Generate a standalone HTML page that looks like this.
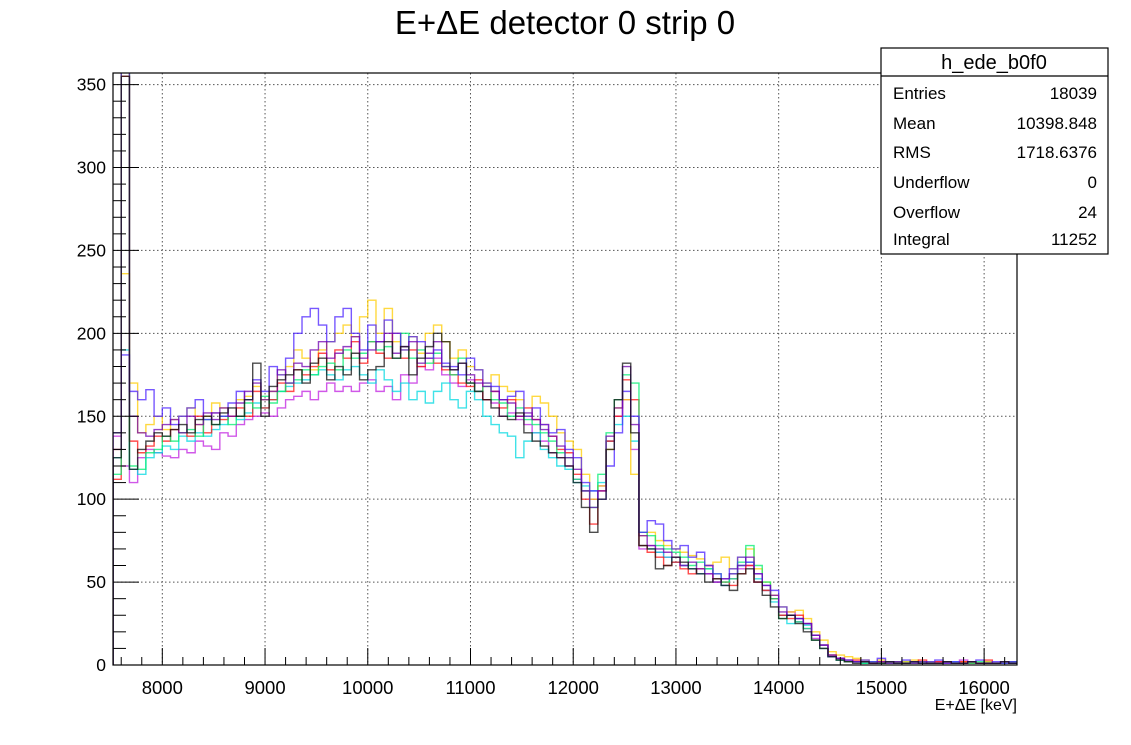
<!DOCTYPE html>
<html><head><meta charset="utf-8"><style>
body{margin:0;background:#fff;width:1131px;height:740px;overflow:hidden;font-family:"Liberation Sans",Arial,sans-serif}
svg text{font-family:"Liberation Sans",Arial,sans-serif}
</style></head><body>
<svg id="chart" width="1131" height="740" xmlns="http://www.w3.org/2000/svg">
<text x="565" y="34" font-size="33" text-anchor="middle">E+ΔE detector 0 strip 0</text>
<defs><clipPath id="pc"><rect x="113" y="73" width="904" height="592"/></clipPath></defs>
<g id="grid"></g>
<g id="series" clip-path="url(#pc)"></g>
<rect x="113" y="73" width="904" height="592" fill="none" stroke="#000" stroke-width="1.2"/>
<g id="axes"></g>
<text x="1017" y="710" font-size="16" text-anchor="end">E+ΔE [keV]</text>
<g>
<rect x="881" y="48" width="227" height="206" fill="#fff" stroke="#000" stroke-width="1.2"/>
<line x1="881" y1="76" x2="1108" y2="76" stroke="#000" stroke-width="1.2"/>
<text x="994" y="69" font-size="20" text-anchor="middle">h_ede_b0f0</text>
<g font-size="17">
<text x="893" y="99">Entries</text><text x="1097" y="99" text-anchor="end">18039</text>
<text x="893" y="129">Mean</text><text x="1097" y="129" text-anchor="end">10398.848</text>
<text x="893" y="158">RMS</text><text x="1097" y="158" text-anchor="end">1718.6376</text>
<text x="893" y="188">Underflow</text><text x="1097" y="188" text-anchor="end">0</text>
<text x="893" y="218">Overflow</text><text x="1097" y="218" text-anchor="end">24</text>
<text x="893" y="245">Integral</text><text x="1097" y="245" text-anchor="end">11252</text>
</g></g>
</svg>
<script>
const binStart=7520, binWidth=80;
const xTicks=[8000,9000,10000,11000,12000,13000,14000,15000,16000];
const yTicks=[0,50,100,150,200,250,300,350];
const sRed=[112,355,135,128,132,138,135,142,140,138,150,140,152,148,150,155,150,165,155,160,170,165,178,175,180,188,178,190,185,195,182,195,188,185,200,185,190,180,185,182,178,175,170,168,172,160,165,155,160,150,155,148,145,138,130,128,115,100,85,105,135,150,172,160,72,68,65,60,62,58,55,58,60,52,50,48,55,60,50,45,40,30,28,30,25,18,12,6,4,2,3,2,1,2,1,2,1,1,3,1,2,1,1,2,1,1,3,1,1,2];
const sYellow=[130,236,170,140,145,150,142,148,150,155,145,150,158,155,150,160,162,168,160,165,175,180,190,185,178,190,195,200,205,198,210,220,200,215,195,190,198,188,200,205,195,185,190,180,178,170,175,168,165,160,150,162,158,150,140,135,130,115,100,108,130,155,160,115,78,80,75,72,70,68,66,64,60,62,65,58,65,70,58,50,42,35,32,33,28,20,15,8,6,5,4,3,2,3,2,1,2,3,1,2,1,2,1,2,1,1,2,1,1,2];
const sGreen=[115,360,120,118,128,130,138,135,140,142,138,148,145,150,145,150,158,155,162,158,165,170,172,178,175,180,182,178,190,185,188,195,190,192,185,200,185,190,182,188,180,175,185,170,165,168,160,158,150,155,148,145,140,135,128,125,112,105,95,115,140,160,175,170,80,78,72,70,68,65,60,62,58,55,50,52,62,72,60,50,40,28,30,26,22,15,10,5,3,2,2,1,2,1,1,2,1,1,2,1,1,2,1,1,1,2,1,1,1,2];
const sCyan=[125,190,118,115,125,128,132,130,138,135,140,138,142,145,150,148,152,158,155,160,165,168,170,172,175,178,175,172,178,180,175,170,178,172,165,170,160,165,158,165,170,160,155,165,160,150,145,140,138,125,135,140,130,125,120,118,110,108,105,110,135,145,150,135,72,70,68,65,62,60,58,55,58,52,48,55,60,62,52,45,38,30,25,28,24,18,12,6,3,2,2,1,1,2,1,1,2,1,1,2,1,1,2,1,1,1,2,1,1,1];
const sBlue=[140,187,165,160,166,150,155,145,150,155,160,148,152,150,158,165,160,172,165,180,175,185,200,210,215,205,195,210,215,200,190,205,195,208,200,190,198,195,185,190,182,180,175,185,178,170,168,160,162,165,150,155,145,140,142,130,125,110,105,100,120,140,165,150,80,87,85,75,70,72,65,68,60,55,52,58,65,62,55,48,45,35,30,28,25,18,12,5,4,3,2,3,2,4,2,1,3,2,1,2,3,1,2,1,2,3,1,2,1,2];
const sMagenta=[138,120,110,125,130,128,126,125,130,128,135,132,130,140,138,145,148,150,152,150,155,160,162,165,160,165,170,165,168,165,170,172,165,168,160,175,170,180,178,185,175,170,168,172,165,160,158,150,152,148,145,140,135,128,125,120,112,105,100,108,135,150,160,130,70,72,68,65,62,60,58,55,55,50,48,52,58,60,50,45,40,30,32,26,22,16,10,5,3,2,2,1,2,1,2,1,1,2,1,1,2,1,1,3,1,1,2,1,1,1];
const sBlack=[125,355,118,130,135,140,138,142,145,140,148,150,145,152,155,150,160,182,150,168,172,175,178,170,182,185,172,180,175,188,172,178,180,195,185,192,175,185,192,200,195,178,182,170,165,160,155,150,148,152,140,135,132,128,125,120,110,95,80,100,130,160,182,140,72,70,58,60,65,62,58,55,50,52,48,45,55,58,50,42,35,28,30,25,20,15,10,5,3,2,1,2,1,1,2,1,1,2,1,1,1,2,1,1,2,1,1,1,2,1];
const sPurple=[130,360,150,140,138,142,145,148,140,150,145,152,148,155,150,158,165,170,160,165,178,170,182,180,190,195,185,188,192,198,185,190,195,200,188,192,195,182,188,195,180,178,182,175,170,168,165,160,158,150,152,148,142,138,132,125,118,105,95,105,138,155,180,145,78,72,70,68,65,60,62,58,55,50,52,55,60,65,55,48,42,32,30,28,25,18,12,6,4,3,2,2,1,2,1,2,1,1,2,1,1,2,1,1,2,1,1,1,2,1];
const seriesList=[["series-magenta",sMagenta,"#c020e0"],["series-cyan",sCyan,"#00d8e0"],["series-yellow",sYellow,"#ffcc00"],["series-red",sRed,"#ff1010"],["series-green",sGreen,"#00ee70"],["series-blue",sBlue,"#4a20ff"],["series-purple",sPurple,"#7000b0"],["series-black",sBlack,"#101010"]];
const X0=113,X1=1017,Y0=665,Y1=73,xmin=7520,xmax=16320,ymin=0,ymax=357;
const sx=v=>X0+(v-xmin)/(xmax-xmin)*(X1-X0);
const sy=v=>Y0-(v-ymin)/(ymax-ymin)*(Y0-Y1);
const NS="http://www.w3.org/2000/svg";
function mk(t,a,p){const e=document.createElementNS(NS,t);for(const k in a)e.setAttribute(k,a[k]);p.appendChild(e);return e;}
const grid=document.getElementById('grid'),axes=document.getElementById('axes'),ser=document.getElementById('series');
xTicks.forEach(v=>{
  const g=mk('line',{x1:sx(v),x2:sx(v),y1:Y1,y2:Y0,stroke:'#555','stroke-dasharray':'1.5,2.5','stroke-width':1},grid);
  
  
  const t=mk('text',{x:sx(v),y:694,'font-size':18.5,'text-anchor':'middle'},axes);t.textContent=v;
  
  
});
yTicks.forEach(v=>{
  if(v>0){const g=mk('line',{x1:X0,x2:X1,y1:sy(v),y2:sy(v),stroke:'#555','stroke-dasharray':'1.5,2.5','stroke-width':1},grid);
  
  }
  const t=mk('text',{x:106,y:sy(v)+6,'font-size':17.5,'text-anchor':'end'},axes);t.textContent=v;
  
  
});
for(let v=7600;v<=16300;v+=200){const maj=v%1000===0;mk('line',{x1:sx(v),x2:sx(v),y1:Y0,y2:Y0-(maj?17:8),stroke:'#000','stroke-width':1},axes);}
for(let v=0;v<=357;v+=10){const maj=v%50===0;mk('line',{x1:X0,x2:X0+(maj?26:13),y1:sy(v),y2:sy(v),stroke:'#000','stroke-width':1},axes);}
seriesList.forEach(([name,vals,col])=>{
  let d='M'+sx(binStart)+','+sy(0);
  vals.forEach((v,i)=>{const a=sx(binStart+i*binWidth),b=sx(binStart+(i+1)*binWidth);d+=' L'+a+','+sy(v)+' L'+b+','+sy(v);});
  const p=mk('path',{d:d,fill:'none',stroke:col,'stroke-width':1.4,'stroke-opacity':0.75},ser);
  
  
});
</script>
</body></html>
